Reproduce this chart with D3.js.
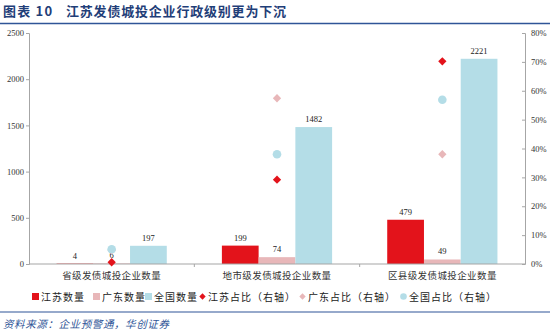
<!DOCTYPE html>
<html><head><meta charset="utf-8">
<script src="https://cdn.jsdelivr.net/npm/d3@7"></script>
<style>
body{margin:0;background:#fff;}
svg{display:block;}
</style></head>
<body>
<svg id="c" width="550" height="336"></svg>
<script>
const categories = ["省级发债城投企业数量","地市级发债城投企业数量","区县级发债城投企业数量"];
const jiangsuCount = [4,199,479];
const guangdongCount = [6,74,49];
const nationalCount = [197,1482,2221];
const jiangsuShare = [0.6,29.2,70.2];
const guangdongShare = [4.7,57.4,38.0];
const nationalShare = [5.1,38.0,56.9];
const leftTicks = [0,500,1000,1500,2000,2500];
const rightTicks = [0,10,20,30,40,50,60,70,80];

const svg = d3.select("#c");
const m = {l:29, r:525, t:33, b:264};
const serif = "'Liberation Serif','Times New Roman',serif";
const cjk = "'Noto Sans CJK SC',sans-serif";
const colors = {js:"#E3131B", gd:"#E8B7B9", nat:"#B4DDE7"};

// title
svg.append("text").attr("x",3).attr("y",16).attr("font-family",cjk).attr("font-weight","bold")
  .attr("font-size",13).attr("letter-spacing",1.2).attr("fill","#1F3E78").text("图表 10");
svg.append("text").attr("x",66).attr("y",16).attr("font-family",cjk).attr("font-weight","bold")
  .attr("font-size",13).attr("letter-spacing",0.8).attr("fill","#1F3E78").text("江苏发债城投企业行政级别更为下沉");
svg.append("line").attr("x1",0).attr("x2",550).attr("y1",23.5).attr("y2",23.5).attr("stroke","#2F5597").attr("stroke-width",1.5);

const x0 = d3.scaleBand().domain(categories).range([m.l,m.r]);
const x1 = d3.scaleBand().domain(["js","gd","nat"]).range([0,x0.bandwidth()]).paddingOuter(0.75).paddingInner(0);
const yL = d3.scaleLinear().domain([0,2500]).range([m.b,m.t]);
const yR = d3.scaleLinear().domain([0,80]).range([m.b,m.t]);

// axes
const gL = svg.append("g").attr("transform",`translate(${m.l},0)`)
  .call(d3.axisLeft(yL).tickValues(leftTicks).tickSize(3).tickFormat(d3.format("d")));
const gR = svg.append("g").attr("transform",`translate(${m.r},0)`)
  .call(d3.axisRight(yR).tickValues(rightTicks).tickSize(-3).tickFormat(d=>d+"%"));
[gL,gR].forEach(g=>{
  g.select(".domain").attr("stroke","#A6A6A6");
  g.selectAll(".tick line").attr("stroke","#A6A6A6");
  g.selectAll(".tick text").attr("font-family",serif).attr("font-size",8.5).attr("fill","#333");
});
gL.selectAll(".tick text").attr("x",-5);
gR.selectAll(".tick text").attr("x",6);

const series = [
  {key:"js", vals:jiangsuCount},
  {key:"gd", vals:guangdongCount},
  {key:"nat", vals:nationalCount}
];

const groups = svg.append("g").selectAll("g").data(categories).join("g")
  .attr("transform",d=>`translate(${x0(d)},0)`);

series.forEach(s=>{
  groups.append("rect")
    .attr("x",x1(s.key)).attr("width",x1.bandwidth())
    .attr("y",(d,i)=>yL(s.vals[i])).attr("height",(d,i)=>m.b-yL(s.vals[i]))
    .attr("fill",colors[s.key]);
  groups.append("text")
    .attr("x",x1(s.key)+x1.bandwidth()/2).attr("y",(d,i)=>yL(s.vals[i])-5)
    .attr("text-anchor","middle").attr("font-family",serif).attr("font-size",8.5).attr("fill","#222")
    .text((d,i)=>s.vals[i]);
});

// bottom axis
svg.append("line").attr("x1",m.l).attr("x2",m.r).attr("y1",m.b).attr("y2",m.b).attr("stroke","#A6A6A6").attr("stroke-width",1.2);
svg.append("g").selectAll("line").data(categories.slice(1)).join("line")
  .attr("x1",d=>x0(d)).attr("x2",d=>x0(d)).attr("y1",m.b).attr("y2",m.b+3).attr("stroke","#A6A6A6");
svg.append("g").selectAll("text").data(categories).join("text")
  .attr("x",d=>x0(d)+x0.bandwidth()/2).attr("y",m.b+15)
  .attr("text-anchor","middle").attr("font-family",cjk).attr("font-size",9.5).attr("letter-spacing",0.4)
  .attr("fill","#333").text(d=>d);

// markers
const cx = d=>x0(d)+x0.bandwidth()/2;
const diamond = d3.symbol().type(d3.symbolDiamond2).size(44);
svg.append("g").selectAll("path").data(categories).join("path")
  .attr("d",diamond).attr("transform",(d,i)=>`translate(${cx(d)},${yR(guangdongShare[i])})`)
  .attr("fill",colors.gd);
svg.append("g").selectAll("circle").data(categories).join("circle")
  .attr("cx",cx).attr("cy",(d,i)=>yR(nationalShare[i])).attr("r",4.3).attr("fill",colors.nat);
svg.append("g").selectAll("path").data(categories).join("path")
  .attr("d",diamond).attr("transform",(d,i)=>`translate(${cx(d)},${yR(jiangsuShare[i])})`)
  .attr("fill",colors.js);

// legend
const legend = [
  {t:"江苏数量", type:"sq", c:colors.js, x:32},
  {t:"广东数量", type:"sq", c:colors.gd, x:93},
  {t:"全国数量", type:"sq", c:colors.nat, x:145},
  {t:"江苏占比（右轴）", type:"dia", c:colors.js, x:199},
  {t:"广东占比（右轴）", type:"dia", c:colors.gd, x:299},
  {t:"全国占比（右轴）", type:"cir", c:colors.nat, x:400}
];
const ly = 297;
const lg = svg.append("g");
legend.forEach(l=>{
  if(l.type==="sq") lg.append("rect").attr("x",l.x).attr("y",ly-4).attr("width",7).attr("height",7).attr("fill",l.c);
  else if(l.type==="dia") lg.append("path").attr("d",d3.symbol().type(d3.symbolDiamond2).size(26)).attr("transform",`translate(${l.x+3.5},${ly-0.5})`).attr("fill",l.c);
  else lg.append("circle").attr("cx",l.x+3.5).attr("cy",ly-0.5).attr("r",3.3).attr("fill",l.c);
  lg.append("text").attr("x",l.x+9).attr("y",ly+3.5).attr("font-family",cjk).attr("font-size",10)
    .attr("letter-spacing",1).attr("fill","#222").text(l.t);
});

// footer
svg.append("line").attr("x1",0).attr("x2",550).attr("y1",312).attr("y2",312).attr("stroke","#2F5597").attr("stroke-width",1.2);
svg.append("text").attr("x",3).attr("y",328).attr("font-family",cjk).attr("font-size",10.5)
  .attr("letter-spacing",0.6).attr("font-style","italic").attr("fill","#2F5597").text("资料来源：企业预警通，华创证券");
</script>
</body></html>
